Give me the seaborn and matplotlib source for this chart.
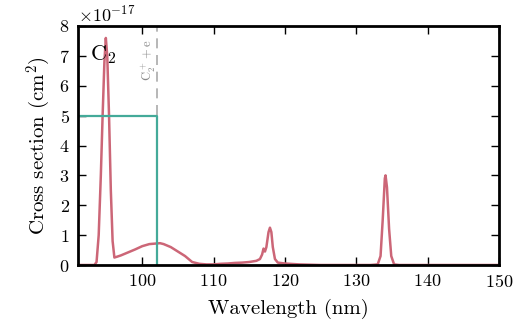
import numpy as np
import pandas as pd
import matplotlib
matplotlib.use('Agg')
import matplotlib.pyplot as plt
import seaborn as sns

# cross section of C2, in units of 1e-17 cm^2
wavelength = [91.0, 93.3, 93.6, 93.9, 94.2, 94.45, 94.7, 94.9, 95.1, 95.35,
              95.6, 95.85, 96.1, 96.5, 97.0, 98.0, 99.0, 100.0, 101.0, 102.0,
              102.5, 103.0, 104.0, 105.0, 106.0, 106.5, 107.0, 108.0, 109.0,
              110.0, 111.0, 112.0, 113.0, 114.0, 115.0, 116.0, 116.5, 116.8,
              117.0, 117.2, 117.4, 117.7, 117.9, 118.1, 118.3, 118.6, 119.0,
              120.0, 122.0, 125.0, 132.0, 133.0, 133.4, 133.7, 134.0, 134.1,
              134.3, 134.6, 134.9, 135.3, 136.0, 150.0]
cross_section = [0.0, 0.0, 0.1, 1.0, 3.0, 5.0, 6.8, 7.6, 7.0, 5.0,
                 2.5, 0.8, 0.25, 0.28, 0.32, 0.42, 0.52, 0.63, 0.7, 0.72,
                 0.73, 0.7, 0.6, 0.45, 0.3, 0.2, 0.1, 0.04, 0.02,
                 0.02, 0.04, 0.05, 0.07, 0.08, 0.1, 0.14, 0.2, 0.35,
                 0.55, 0.45, 0.6, 1.1, 1.25, 1.1, 0.6, 0.2, 0.08,
                 0.05, 0.02, 0.0, 0.0, 0.02, 0.3, 1.5, 2.9, 3.0,
                 2.6, 1.2, 0.3, 0.02, 0.0, 0.0]

# ionisation threshold step (C2+ + e)
threshold = 102.1
step_x = [91.0, threshold, threshold]
step_y = [5.0, 5.0, 0.0]

df = pd.DataFrame({'wl': wavelength, 'cs': np.array(cross_section) * 1e-17})
df_step = pd.DataFrame({'wl': step_x, 'cs': np.array(step_y) * 1e-17})

sns.set_style('ticks', {'axes.edgecolor': 'black', 'text.color': 'black',
                        'xtick.color': 'black', 'ytick.color': 'black',
                        'axes.labelcolor': 'black'})
plt.rcParams['font.family'] = 'serif'
plt.rcParams['font.serif'] = ['cmr10', 'DejaVu Serif']
plt.rcParams['mathtext.fontset'] = 'cm'
plt.rcParams['axes.formatter.use_mathtext'] = True
plt.rcParams['axes.unicode_minus'] = False

fig, ax = plt.subplots(figsize=(5.25, 3.25), dpi=100)
fig.subplots_adjust(left=78 / 525, right=499 / 525, top=1 - 26 / 325,
                    bottom=1 - 265 / 325)

sns.lineplot(data=df, x='wl', y='cs', color='#cc6677', lw=1.8, ax=ax,
             estimator=None, sort=False)
sns.lineplot(data=df_step, x='wl', y='cs', color='#44aa99', lw=1.6, ax=ax,
             estimator=None, sort=False)
ax.axvline(threshold, color='#aaaaaa', ls='--', lw=1.2, dashes=(6, 4), zorder=0)
ax.text(threshold - 1.2, 7.55e-17, r'$\mathrm{C_2^+ + e}$', rotation=90,
        color='#888888', fontsize=9, va='top', ha='center')
ax.text(0.028, 0.93, r'$\mathrm{C_2}$', transform=ax.transAxes,
        fontsize=16, va='top', ha='left')

ax.set_xlim(91, 150)
ax.set_ylim(0, 8e-17)
ax.set_xticks([100, 110, 120, 130, 140, 150])
ax.set_yticks(np.arange(0, 9) * 1e-17)
ax.tick_params(direction='in', top=True, right=True, length=6, width=1,
               labelsize=13, pad=6)
for s in ax.spines.values():
    s.set_linewidth(2)
    s.set_color('black')
ax.yaxis.get_offset_text().set_fontsize(13)
ax.set_xlabel('Wavelength (nm)', fontsize=15, labelpad=6)
ax.set_ylabel(r'Cross section (cm$^2$)', fontsize=15, labelpad=4)

plt.savefig('out.png', dpi=100)
